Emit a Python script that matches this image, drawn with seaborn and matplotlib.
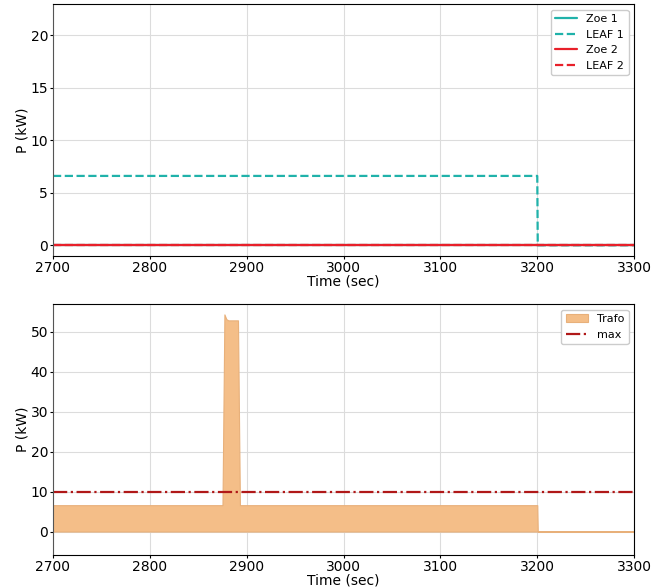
import numpy as np
import pandas as pd
import matplotlib
matplotlib.use("Agg")
import matplotlib.pyplot as plt
import seaborn as sns

# ---- data ----
t_ev = [2700, 3200, 3200.5, 3300]
zoe1 = [0, 0, 0, 0]
leaf1 = [6.6, 6.6, 0, 0]
zoe2 = [0, 0, 0, 0]
leaf2 = [0, 0, 0, 0]

t_trafo = [2700, 2875, 2877, 2879, 2881, 2891, 2893, 3200, 3200.5, 3300]
trafo = [6.6, 6.6, 54.4, 53.2, 52.9, 52.9, 6.6, 6.6, 0, 0]
p_max = 10

x_ticks = [2700, 2800, 2900, 3000, 3100, 3200, 3300]

sns.set_style("whitegrid", {
    "axes.edgecolor": "black",
    "grid.color": "#dcdcdc",
    "xtick.bottom": True,
    "ytick.left": True,
    "axes.linewidth": 1.0,
    "text.color": "black",
    "axes.labelcolor": "black",
    "xtick.color": "black",
    "ytick.color": "black",
})
plt.rcParams['font.family'] = ['DejaVu Sans']

fig = plt.figure(figsize=(6.68, 5.88), dpi=100)
ax1 = fig.add_axes([0.0793, 0.565, 0.870, 0.428])
ax2 = fig.add_axes([0.0793, 0.056, 0.870, 0.427])

teal = "#20b2aa"
red = "#e8202a"

df = pd.DataFrame({"t": t_ev, "Zoe 1": zoe1, "LEAF 1": leaf1,
                   "Zoe 2": zoe2, "LEAF 2": leaf2})
sns.lineplot(data=df, x="t", y="Zoe 1", ax=ax1, color=teal, lw=1.6, label="Zoe 1")
sns.lineplot(data=df, x="t", y="LEAF 1", ax=ax1, color=teal, lw=1.6, ls="--", label="LEAF 1")
sns.lineplot(data=df, x="t", y="Zoe 2", ax=ax1, color=red, lw=1.6, label="Zoe 2")
sns.lineplot(data=df, x="t", y="LEAF 2", ax=ax1, color=red, lw=1.6, ls="--", label="LEAF 2")
ax1.set_xlim(2700, 3300)
ax1.set_ylim(-1, 22.95)
ax1.set_xticks(x_ticks)
ax1.set_yticks([0, 5, 10, 15, 20])

dft = pd.DataFrame({"t": t_trafo, "Trafo": trafo})
orange = "#f4be88"
ax2.fill_between(dft["t"], 0, dft["Trafo"], color=orange, lw=0.8, edgecolor="#e8b07a", label="Trafo")
ax2.axhline(p_max, color="#b01818", ls="-.", lw=1.6, label="max")
ax2.set_xlim(2700, 3300)
ax2.set_ylim(-5.9, 57.0)
ax2.set_xticks(x_ticks)
ax2.set_yticks([0, 10, 20, 30, 40, 50])

for ax in (ax1, ax2):
    ax.set_xlabel("Time (sec)", fontsize=10, labelpad=0)
    ax.set_ylabel("P (kW)", fontsize=10, labelpad=1)
    ax.tick_params(labelsize=10, length=2.5, pad=1, colors="black")
    ax.legend(loc="upper right", fontsize=8, frameon=True, fancybox=True,
              edgecolor="#cccccc", framealpha=1, handlelength=2)
    for s in ax.spines.values():
        s.set_color("black")
    ax.spines["left"].set_color("#555555")

fig.savefig("out.png", dpi=100)
